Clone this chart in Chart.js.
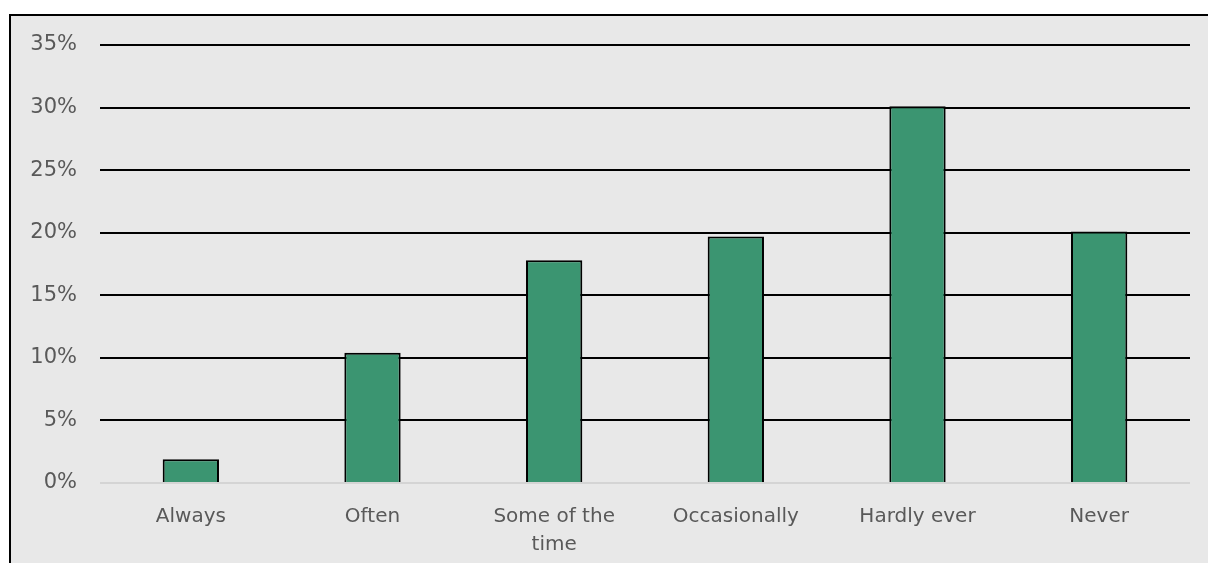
<!DOCTYPE html>
<html>
<head>
<meta charset="utf-8">
<script src="https://cdn.jsdelivr.net/npm/chart.js@4"></script>
<style>
  html, body { margin: 0; padding: 0; background: #fff; }
  #wrap { width: 1208px; height: 563px; }
</style>
</head>
<body>
<div id="wrap"><canvas id="freqChart"></canvas></div>
<script>
// Categories (x axis)
const categories = ['Always', 'Often', ['Some of the', 'time'], 'Occasionally', 'Hardly ever', 'Never'];

// Share of respondents (%)
const shares = [1.9, 10.4, 17.8, 19.7, 30.1, 20.1];

// Y axis range
const yMax = 35;
const yStep = 5;

// Panel background + black frame (left/top edges visible)
const panelBg = {
    id: 'panelBg',
    beforeDraw(chart) {
        const c = chart.ctx;
        c.save();
        c.fillStyle = '#ffffff';
        c.fillRect(0, 0, chart.width, chart.height);
        c.fillStyle = '#e8e8e8';
        c.fillRect(10, 15, chart.width, chart.height);
        c.strokeStyle = '#000';
        c.lineWidth = 2;
        c.strokeRect(10, 15, chart.width + 10, chart.height + 10);
        c.restore();
    }
};

new Chart(document.getElementById('freqChart').getContext('2d'), {
    type: 'bar',
    data: {
        labels: categories,
        datasets: [{
            data: shares,
            backgroundColor: '#3b9571',
            borderColor: '#000',
            borderWidth: 2,
            categoryPercentage: 1,
            barPercentage: 0.31
        }]
    },
    options: {
        responsive: true,
        maintainAspectRatio: false,
        animation: false,
        layout: { padding: { top: 45, right: 18, bottom: 0, left: 0 } },
        plugins: {
            legend: { display: false },
            tooltip: { enabled: false }
        },
        scales: {
            x: {
                grid: { display: false },
                border: { display: false },
                ticks: {
                    color: '#595959',
                    font: { family: 'DejaVu Sans', size: 20, lineHeight: 1.4 },
                    padding: 12,
                    maxRotation: 0
                },
                afterFit(scale) { scale.height = 80; }
            },
            y: {
                min: 0,
                max: yMax,
                border: { display: false },
                grid: {
                    drawTicks: false,
                    lineWidth: 2,
                    color: (ctx) => ctx.tick && ctx.tick.value === 0 ? '#d4d4d4' : '#000'
                },
                ticks: {
                    stepSize: yStep,
                    color: '#595959',
                    font: { family: 'DejaVu Sans', size: 21 },
                    padding: 23,
                    callback: (v) => v + '%'
                },
                afterFit(scale) { scale.width = 100; }
            }
        }
    },
    plugins: [panelBg]
});
</script>
</body>
</html>
